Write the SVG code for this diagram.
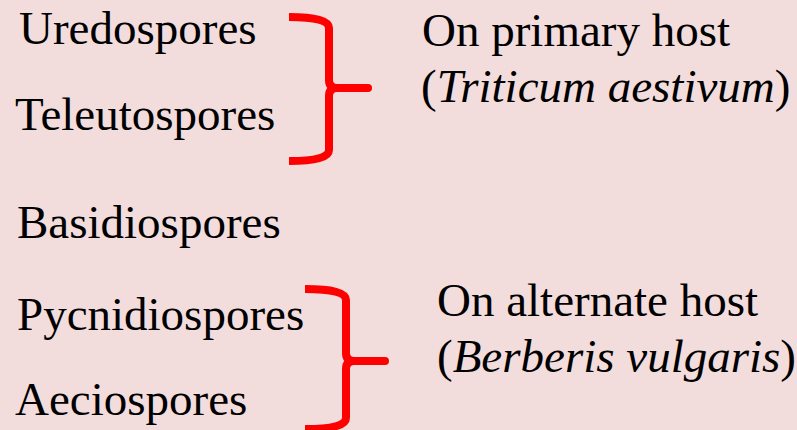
<svg xmlns="http://www.w3.org/2000/svg" width="797" height="430" viewBox="0 0 797 430">
  <style>
    .brace { fill: none; stroke: #ff0000; stroke-width: 8; stroke-linejoin: round; }
  </style>
  <rect width="797" height="430" fill="#f2dcdc"/>

  <g font-family="Liberation Serif, Times New Roman, serif" font-size="47" fill="#000">
    <g id="spores">
      <text x="19" y="44">Uredospores</text>
      <text x="15" y="130">Teleutospores</text>
      <text x="17" y="238">Basidiospores</text>
      <text x="17" y="330">Pycnidiospores</text>
      <text x="15" y="415">Aeciospores</text>
    </g>

    <g id="primary-host">
      <text x="422" y="46">On primary host</text>
      <text x="421" y="102">(<tspan font-style="italic">Triticum aestivum</tspan>)</text>
    </g>

    <g id="alternate-host">
      <text x="437" y="316">On alternate host</text>
      <text x="437" y="372">(<tspan font-style="italic">Berberis vulgaris</tspan>)</text>
    </g>
  </g>

  <g id="connectors">
    <!-- brace grouping the spores formed on the primary host -->
    <path class="brace" d="M289,17 Q329,17 329,28 L329,80 Q329,88 337,88 L368,88 M289,161 Q329,161 329,150 L329,96 Q329,88 337,88" />
    <!-- brace grouping the spores formed on the alternate host -->
    <path class="brace" d="M305,289 Q346,289 346,300 L346,353 Q346,361 354,361 L385,361 M305,429 Q346,429 346,418 L346,369 Q346,361 354,361" />
    <circle cx="368" cy="88" r="4" fill="#ff0000"/>
    <circle cx="385" cy="361" r="4" fill="#ff0000"/>
  </g>
</svg>
